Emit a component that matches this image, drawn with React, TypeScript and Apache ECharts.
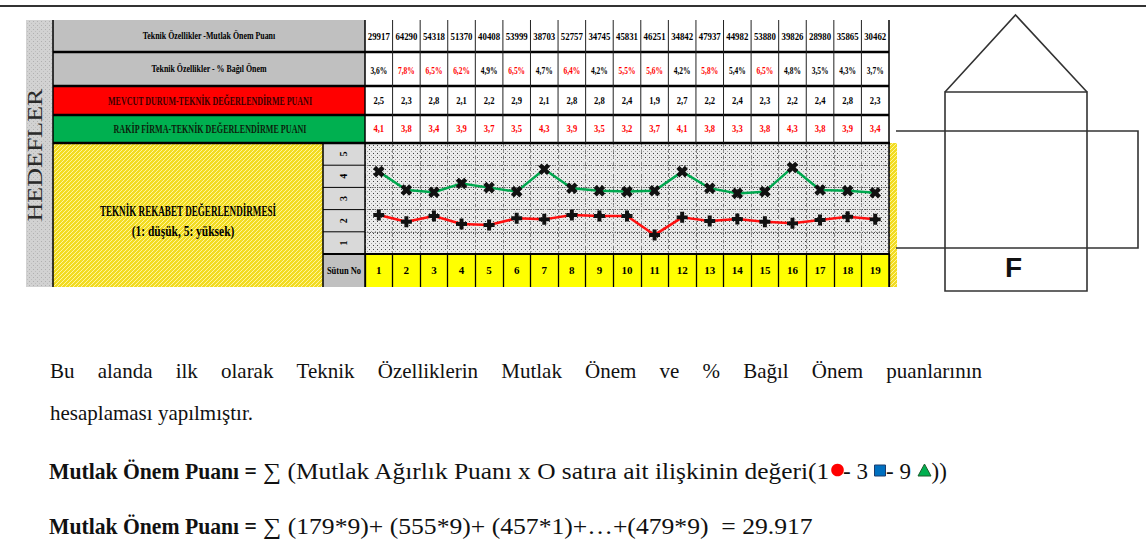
import React, { useEffect, useRef } from 'react';
import * as echarts from 'echarts';

// ---------- data ----------
const columnNumbers = ['1', '2', '3', '4', '5', '6', '7', '8', '9', '10', '11', '12', '13', '14', '15', '16', '17', '18', '19'];
const mutlakOnemPuani = ['29917', '64290', '54318', '51370', '40408', '53999', '38703', '52757', '34745', '45831', '46251', '34842', '47937', '44982', '53880', '39826', '28980', '35865', '30462'];
const bagilOnem = ['3,6%', '7,8%', '6,5%', '6,2%', '4,9%', '6,5%', '4,7%', '6,4%', '4,2%', '5,5%', '5,6%', '4,2%', '5,8%', '5,4%', '6,5%', '4,8%', '3,5%', '4,3%', '3,7%'];
const bagilOnemHighlighted = [false, true, true, true, false, true, false, true, false, true, true, false, true, false, true, false, false, false, false];
const mevcutPuan = ['2,5', '2,3', '2,8', '2,1', '2,2', '2,9', '2,1', '2,8', '2,8', '2,4', '1,9', '2,7', '2,2', '2,4', '2,3', '2,2', '2,4', '2,8', '2,3'];
const rakipPuan = ['4,1', '3,8', '3,4', '3,9', '3,7', '3,5', '4,3', '3,9', '3,5', '3,2', '3,7', '4,1', '3,8', '3,3', '3,8', '4,3', '3,8', '3,9', '3,4'];
// plotted line values
const mevcutLine = [2.26, 1.95, 2.21, 1.85, 1.81, 2.11, 2.06, 2.26, 2.21, 2.21, 1.36, 2.15, 1.99, 2.08, 1.95, 1.88, 2.03, 2.18, 2.06];
const rakipLine = [4.21, 3.38, 3.28, 3.68, 3.49, 3.31, 4.32, 3.46, 3.35, 3.31, 3.35, 4.21, 3.46, 3.23, 3.31, 4.4, 3.38, 3.35, 3.26];
const scoreLevels = [1, 2, 3, 4, 5];
const gridLevels = [1.5, 2.5, 3.5, 4.5];

const rowTitles = [
  'Teknik Özellikler -Mutlak Önem Puanı',
  'Teknik Özellikler - % Bağıl Önem',
  'MEVCUT DURUM-TEKNİK DEĞERLENDİRME PUANI',
  'RAKİP FİRMA-TEKNİK DEĞERLENDİRME PUANI',
];
const sideTitle = 'HEDEFLER';
const chartTitle = 'TEKNİK REKABET DEĞERLENDİRMESİ';
const chartSubtitle = '(1: düşük, 5: yüksek)';
const columnRowTitle = 'Sütun No';
const houseLetter = 'F';
const paragraph1 = 'Bu alanda ilk olarak Teknik Özelliklerin Mutlak Önem ve % Bağıl Önem puanlarının';
const paragraph2 = 'hesaplaması yapılmıştır.';
const formulaLabel = 'Mutlak Önem Puanı =';
const formula1 = '∑ (Mutlak Ağırlık Puanı x O satıra ait ilişkinin değeri(1';
const formula1Rest = ['- 3', '- 9', '))'];
const formula2 = '∑ (179*9)+ (555*9)+ (457*1)+…+(479*9)  = 29.917';

const SERIF = '"Liberation Serif", "Times New Roman", serif';

function makePattern(w: number, h: number, base: string, dots: [number, number, string][]) {
  const c = document.createElement('canvas');
  c.width = w;
  c.height = h;
  const ctx = c.getContext('2d')!;
  ctx.fillStyle = base;
  ctx.fillRect(0, 0, w, h);
  dots.forEach(([x, y, col]) => {
    ctx.fillStyle = col;
    ctx.fillRect(x, y, 1, 1);
  });
  return { image: c.toDataURL(), repeat: 'repeat', imageWidth: w, imageHeight: h } as any;
}

const plusPath = 'path://M3.2,0H6.8V3.2H10V6.8H6.8V10H3.2V6.8H0V3.2H3.2Z';

function buildOption(): any {
  return {
    animation: false,
    grid: { left: 365, top: 143, width: 524, height: 111, containLabel: false },
    xAxis: {
      type: 'category',
      data: columnNumbers,
      boundaryGap: true,
      z: 5,
      axisLine: { show: true, lineStyle: { color: '#000', width: 2 } },
      axisTick: { show: true, interval: 0, length: 33, lineStyle: { color: '#000', width: 1.3 } },
      axisLabel: {
        show: true, interval: 0, margin: 16, verticalAlign: 'middle',
        fontFamily: SERIF, fontWeight: 'bold', fontSize: 11, color: '#000',
      },
      splitLine: { show: true, interval: 0, lineStyle: { color: '#8c8c8c', type: 'dashed', width: 1 } },
    },
    yAxis: {
      type: 'value', min: 0.5, max: 5.5, interval: 0.5, z: 5,
      axisLine: { show: false }, axisTick: { show: false }, splitLine: { show: false },
      axisLabel: {
        show: true, rotate: 90, margin: 22, align: 'center', verticalAlign: 'middle',
        fontFamily: SERIF, fontWeight: 'bold', fontSize: 10, color: '#000',
        formatter: (v: number) => (scoreLevels.indexOf(v) >= 0 ? String(v) : ''),
      },
    },
    series: [
      {
        type: 'line', name: 'Mevcut Durum', data: mevcutLine, z: 10,
        symbol: plusPath, symbolSize: 11,
        itemStyle: { color: '#111' },
        lineStyle: { color: '#ff1010', width: 2.5 },
        markLine: {
          silent: true, symbol: ['none', 'none'], label: { show: false },
          lineStyle: { color: '#555', type: 'dotted', width: 1.2 },
          data: gridLevels.map((v) => ({ yAxis: v })),
        },
      },
      {
        type: 'line', name: 'Rakip Firma', data: rakipLine, z: 10,
        symbol: plusPath, symbolSize: 12, symbolRotate: 45,
        itemStyle: { color: '#111' },
        lineStyle: { color: '#00a84f', width: 2.5 },
      },
    ],
  };
}

function buildGraphics(chart: any): any[] {
  const els: any[] = [];
  const cx = (i: number) => chart.convertToPixel({ xAxisIndex: 0 }, i) as number;
  const cy = (v: number) => chart.convertToPixel({ yAxisIndex: 0 }, v) as number;

  const dotPattern = makePattern(4, 4, '#ebebeb', [[1, 1, '#3c3c3c'], [3, 3, '#a0a0a0']]);
  const stripPattern = makePattern(4, 4, '#d2d2d2', [[1, 1, '#b0b0b0'], [3, 3, '#bdbdbd']]);
  const yellowPattern = makePattern(4, 4, '#f2dc22', [[0, 3, '#fff59c'], [1, 2, '#fff59c'], [2, 1, '#fff59c'], [3, 0, '#fff59c']]);

  const rect = (x: number, y: number, w: number, h: number, fill: any, z = 0) =>
    els.push({ type: 'rect', shape: { x, y, width: w, height: h }, style: { fill }, z, silent: true });
  const line = (x1: number, y1: number, x2: number, y2: number, stroke: string, lw: number, z = 20) =>
    els.push({ type: 'line', shape: { x1, y1, x2, y2 }, style: { stroke, lineWidth: lw }, z, silent: true });
  const text = (x: number, y: number, t: string, o: any = {}) =>
    els.push({
      type: 'text', x, y, scaleX: o.scaleX ?? 1, rotation: o.rotation ?? 0, z: 21, silent: true,
      style: {
        text: t, fontFamily: o.family ?? SERIF, fontSize: o.size ?? 11, fontWeight: o.weight ?? 'bold',
        fill: o.color ?? '#000', align: o.align ?? 'center', verticalAlign: 'middle',
      },
    });

  const L = 53, HR = 365, R = 889, LC = 323;
  const rowTops = [20, 52, 86, 115, 143];
  const plotBottom = 254, tableBottom = 287;

  // backgrounds
  rect(26, 20, 27, 267, stripPattern);
  rect(L, 20, HR - L, 32, '#c0c0c0');
  rect(L, 52, HR - L, 34, '#c0c0c0');
  rect(L, 86, HR - L, 29, '#ff0000');
  rect(L, 115, HR - L, 28, '#00b050');
  rect(L, 143, LC - L, tableBottom - 143, yellowPattern);
  rect(LC, 143, HR - LC, plotBottom - 143, '#d9d9d9');
  rect(LC, plotBottom, HR - LC, tableBottom - plotBottom, '#c0c0c0');
  rect(HR, 143, R - HR, plotBottom - 143, dotPattern);
  rect(HR, plotBottom, R - HR, tableBottom - plotBottom, '#ffff00');
  rect(R, 143, 8, tableBottom - 143, yellowPattern);

  // table borders
  line(L, 20, L, tableBottom, '#000', 1.5);
  [52, 86, 115].forEach((y) => line(L, y, R, y, '#000', 2.5));
  line(L, 143, R + 1, 143, '#000', 2.5);
  line(HR, 20, HR, tableBottom, '#000', 1.5);
  line(R, 20, R, tableBottom, '#000', 1.5);
  for (let i = 1; i < columnNumbers.length; i++) {
    const bx = (cx(i - 1) + cx(i)) / 2;
    line(bx, 20, bx, 143, '#222', 1);
  }
  line(LC, 143, LC, tableBottom, '#000', 1.5);
  gridLevels.forEach((v) => line(LC, cy(v), HR, cy(v), '#000', 1));
  line(LC, plotBottom, HR, plotBottom, '#000', 2);

  // row titles
  const midRow = (k: number) => (rowTops[k] + rowTops[k + 1]) / 2;
  text(209, midRow(0) - 0.5, rowTitles[0], { size: 10, scaleX: 0.79 });
  text(209, midRow(1), rowTitles[1], { size: 10, scaleX: 0.79 });
  text(210, midRow(2), rowTitles[2], { size: 12, scaleX: 0.665, color: '#3a0000' });
  text(210, midRow(3), rowTitles[3], { size: 12, scaleX: 0.675, color: '#0c1f0c' });

  // row values
  columnNumbers.forEach((_, i) => {
    const x = cx(i);
    text(x, 36, mutlakOnemPuani[i], { size: 11, scaleX: 0.8 });
    text(x, 70, bagilOnem[i], { size: 11, scaleX: 0.68, color: bagilOnemHighlighted[i] ? '#ff0000' : '#000' });
    text(x, 100.5, mevcutPuan[i], { size: 11, scaleX: 0.78 });
    text(x, 128.5, rakipPuan[i], { size: 11, scaleX: 0.78, color: '#ff0000' });
  });

  // side title and chart title
  text(35, 155, sideTitle, { size: 20, weight: 'normal', scaleX: 1.3, rotation: Math.PI / 2, color: '#2a2a2a' });
  text(188, 211, chartTitle, { size: 14, scaleX: 0.65 });
  text(183, 232, chartSubtitle, { size: 14, scaleX: 0.82 });
  text(344, 271, columnRowTitle, { size: 10, scaleX: 0.85 });

  // house drawing
  const st = { stroke: '#333', lineWidth: 1.6, fill: null };
  els.push({ type: 'polyline', shape: { points: [[945, 92], [1015.5, 15], [1087, 92]] }, style: st, z: 20, silent: true });
  els.push({ type: 'rect', shape: { x: 945, y: 92, width: 142, height: 199 }, style: st, z: 20, silent: true });
  els.push({ type: 'polyline', shape: { points: [[896, 131], [1138, 131], [1138, 248], [896, 248]] }, style: st, z: 20, silent: true });
  text(1013.5, 267, houseLetter, { size: 28, family: '"Liberation Sans", Arial, sans-serif', color: '#111' });

  // frame
  line(0, 6, 1146, 6, '#333', 2);

  // paragraph line 1 (justified)
  const mc = document.createElement('canvas').getContext('2d')!;
  mc.font = '21px "Liberation Serif"';
  const words = paragraph1.split(' ');
  const widths = words.map((w) => mc.measureText(w).width);
  const total = widths.reduce((a, b) => a + b, 0);
  const gap = (982 - 50 - total) / (words.length - 1);
  let px = 50;
  words.forEach((w, i) => {
    text(px, 371, w, { size: 21, weight: 'normal', align: 'left', color: '#111' });
    px += widths[i] + gap;
  });
  text(50, 413, paragraph2, { size: 21, weight: 'normal', align: 'left', color: '#111' });

  // formula lines
  const FS = 23;
  mc.font = `bold ${FS}px "Liberation Serif"`;
  const labelScale = 208 / mc.measureText(formulaLabel).width;
  mc.font = `${FS}px "Liberation Serif"`;
  const f1Scale = (831 - 263) / mc.measureText(formula1).width;
  const f2Scale = (813 - 263) / mc.measureText(formula2).width;
  const y3 = 471, y4 = 526;
  text(49, y3, formulaLabel, { size: FS, align: 'left', color: '#111', scaleX: labelScale });
  text(263, y3, formula1, { size: FS, weight: 'normal', align: 'left', color: '#111', scaleX: f1Scale });
  els.push({ type: 'circle', shape: { cx: 837.5, cy: 470, r: 6.3 }, style: { fill: '#ff0000' }, z: 21, silent: true });
  text(843, y3, formula1Rest[0], { size: FS, weight: 'normal', align: 'left', color: '#111' });
  els.push({ type: 'rect', shape: { x: 874.5, y: 465, width: 11, height: 11 }, style: { fill: '#0070c0', stroke: '#1d3d6d', lineWidth: 1 }, z: 21, silent: true });
  text(886, y3, formula1Rest[1], { size: FS, weight: 'normal', align: 'left', color: '#111' });
  els.push({ type: 'polygon', shape: { points: [[918, 476], [924.5, 464], [931, 476]] }, style: { fill: '#00b050', stroke: '#1d5d2d', lineWidth: 1 }, z: 21, silent: true });
  text(931.5, y3, formula1Rest[2], { size: FS, weight: 'normal', align: 'left', color: '#111' });

  text(49, y4, formulaLabel, { size: FS, align: 'left', color: '#111', scaleX: labelScale });
  text(263, y4, formula2, { size: FS, weight: 'normal', align: 'left', color: '#111', scaleX: f2Scale });

  return els;
}

export default function App() {
  const ref = useRef<HTMLDivElement>(null);
  useEffect(() => {
    document.body.style.margin = '0';
    const chart = echarts.init(ref.current!, null, { renderer: 'svg' });
    chart.setOption(buildOption());
    chart.setOption({ graphic: { elements: buildGraphics(chart) } });
    return () => chart.dispose();
  }, []);
  return <div ref={ref} style={{ width: 1146, height: 554, background: '#fff' }} />;
}
